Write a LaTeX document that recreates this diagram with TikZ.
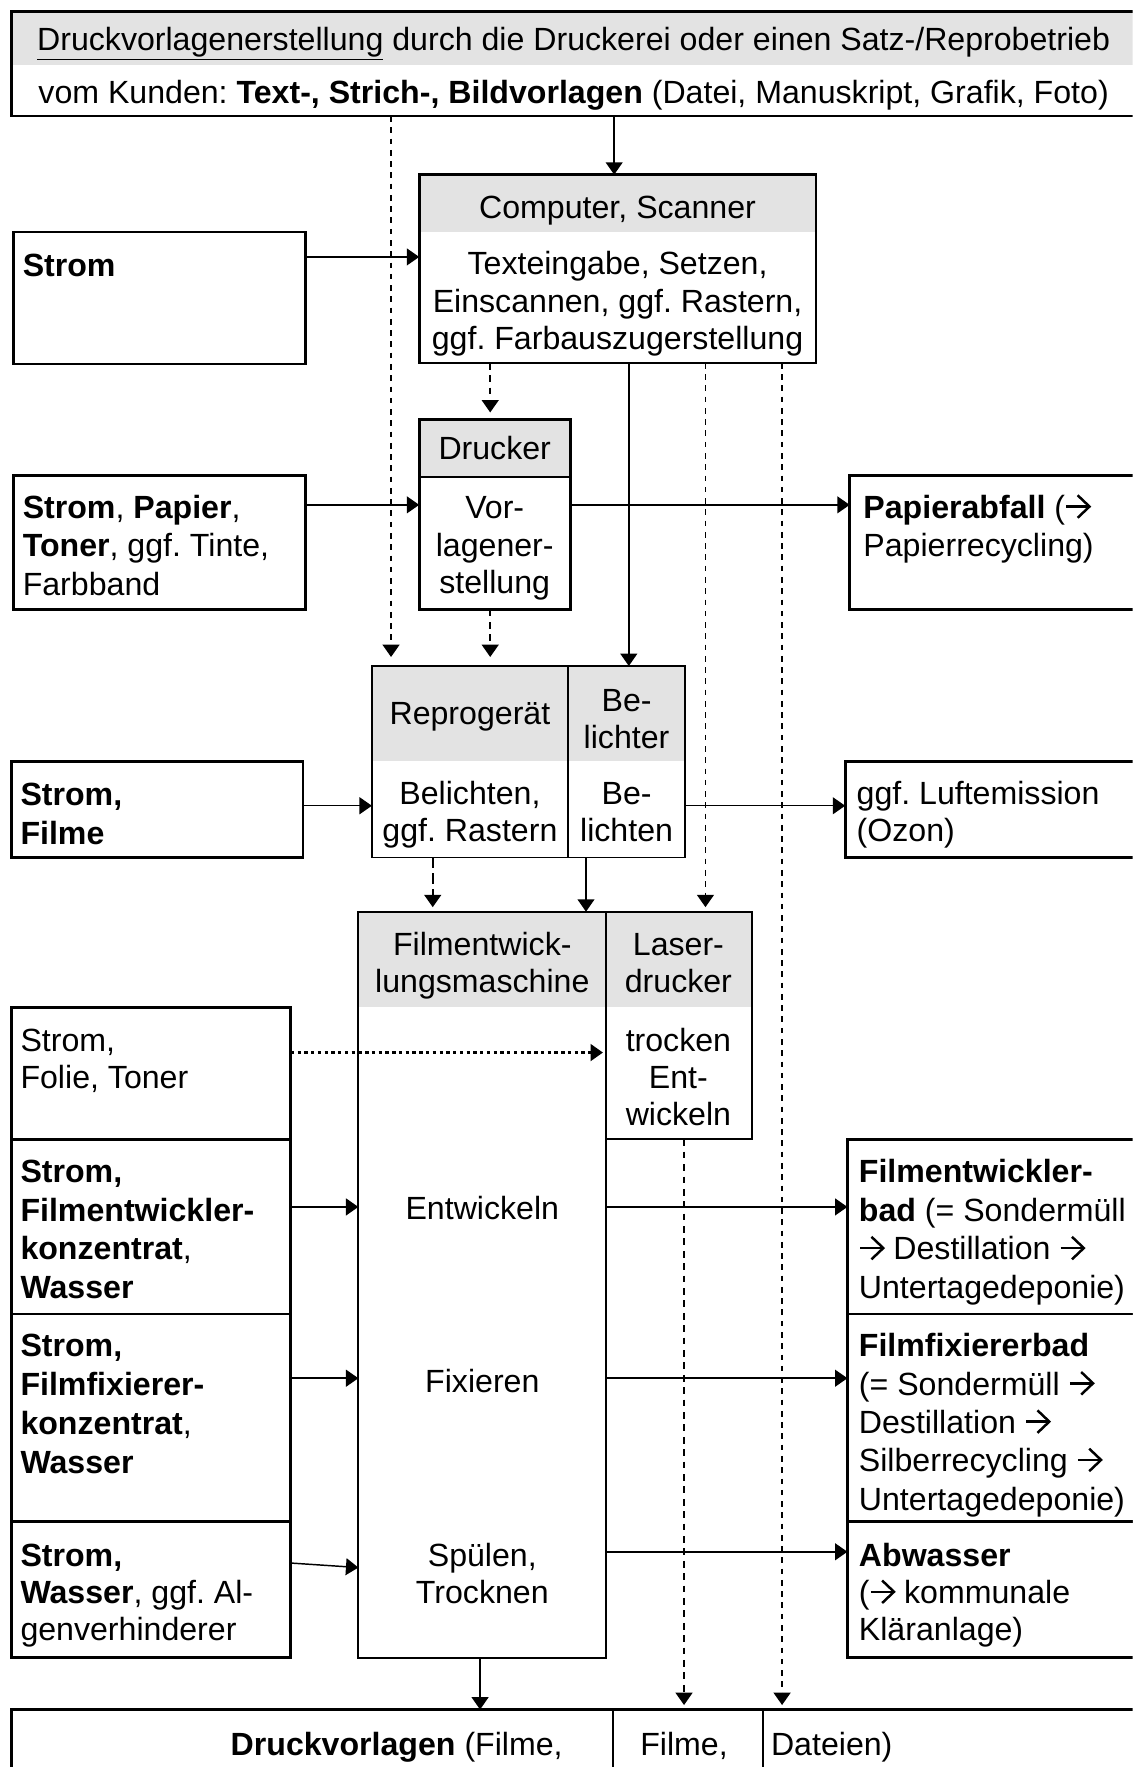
\documentclass[tikz,border=0pt]{standalone}
\usepackage{fontspec}
\setmainfont{Liberation Sans}
\newcommand\ra{\tikz[baseline=0pt]{\draw[line width=2.2pt] (0pt,10.5pt)--(20pt,10.5pt); \draw[line width=2.2pt, line join=miter, miter limit=10] (10pt,20.5pt)--(20.5pt,10.5pt)--(10pt,0.5pt);}}
\usetikzlibrary{arrows.meta}
\definecolor{hdr}{RGB}{227,227,227}
\tikzset{
  box/.style={draw, line width=2.4pt, inner sep=0pt, outer sep=0pt, anchor=north west},
  tbox/.style={draw, line width=1.6pt, inner sep=0pt, outer sep=0pt, anchor=north west},
  hdrfill/.style={fill=hdr, inner sep=0pt, outer sep=0pt, anchor=north west},
  txt/.style={inner sep=0pt, font=\fontsize{28.5}{33.5}\selectfont},
  conn/.style={line width=1.3pt, -{Triangle[length=11pt,width=15pt]}},
  dashc/.style={conn, line width=1.6pt, dash pattern=on 6pt off 5pt},
  dotv/.style={conn, line width=1.6pt, dash pattern=on 5pt off 5pt},
  dotc/.style={conn, line width=2pt, dash pattern=on 3pt off 3pt},
}
\newcommand\txtl[6]{%
  \foreach \t [count=\i from 0] in {#6}{\node[txt,anchor=#2] (#1\i) at (#3,{#4+10+\i*#5}) {\t};}}
\begin{document}
\frenchspacing
\begin{tikzpicture}[x=1pt,y=-1pt]
\useasboundingbox (0,0) rectangle (1005,1568);
\clip (0,0) rectangle (1005,1568);
\fill[white] (0,0) rectangle (1005,1568);

% ---------- boxes ----------
\node[hdrfill, minimum width=1010pt, minimum height=48pt] (topH) at (10,10) {};
\node[box, minimum width=1010pt, minimum height=93pt] (top) at (10,10) {};

\node[hdrfill, minimum width=352pt, minimum height=51pt] (compH) at (372,155) {};
\node[box, minimum width=352pt, minimum height=167pt] (comp) at (372,155) {};

\node[box, minimum width=259pt, minimum height=117pt] (strom1) at (12,206) {};

\node[hdrfill, minimum width=134pt, minimum height=51pt] (druckH) at (372,372) {};
\node[box, minimum width=134pt, minimum height=169pt] (druck) at (372,372) {};
\draw[line width=2pt] (druckH.south west) -- (druckH.south east);

\node[box, minimum width=259pt, minimum height=119pt] (strom2) at (12,422) {};
\node[box, minimum width=270pt, minimum height=119pt] (papier) at (754,422) {};

\node[hdrfill, minimum width=174pt, minimum height=84pt] (reproLH) at (330,591) {};
\node[hdrfill, minimum width=104pt, minimum height=84pt] (reproRH) at (504,591) {};
\node[tbox, minimum width=174pt, minimum height=170pt] (reproL) at (330,591) {};
\node[tbox, minimum width=104pt, minimum height=170pt] (reproR) at (504,591) {};

\node[box, minimum width=259pt, minimum height=85pt] (strom3) at (10,676) {};
\node[box, minimum width=275pt, minimum height=85pt] (luft) at (750,676) {};

\node[hdrfill, minimum width=220pt, minimum height=85pt] (filmH) at (318,809) {};
\node[hdrfill, minimum width=129pt, minimum height=85pt] (laserH) at (538,809) {};
\node[tbox, minimum width=220pt, minimum height=662pt] (film) at (318,809) {};
\node[tbox, minimum width=129pt, minimum height=202pt] (laser) at (538,809) {};

\node[box, minimum width=248pt, minimum height=117pt] (inA) at (10,894) {};
\node[box, minimum width=248pt, minimum height=155pt] (inB) at (10,1011) {};
\node[box, minimum width=248pt, minimum height=184pt] (inC) at (10,1166) {};
\node[box, minimum width=248pt, minimum height=121pt] (inD) at (10,1350) {};

\node[box, minimum width=275pt, minimum height=155pt] (outB) at (752,1011) {};
\node[box, minimum width=275pt, minimum height=184pt] (outC) at (752,1166) {};
\node[box, minimum width=275pt, minimum height=121pt] (outD) at (752,1350) {};

\node[box, minimum width=534pt, minimum height=90pt] (botL) at (10,1517) {};
\node[box, minimum width=133pt, minimum height=90pt] (botM) at (544,1517) {};
\node[box, minimum width=340pt, minimum height=90pt] (botR) at (677,1517) {};

% ---------- texts ----------
\node[txt, anchor=base] (t1) at (509,45) {\underline{Druckvorlagenerstellung} durch die Druckerei oder einen Satz-/Reprobetrieb};
\node[txt, anchor=base] (t2) at (509,92) {vom Kunden: \textbf{Text-, Strich-, Bildvorlagen} (Datei, Manuskript, Grafik, Foto)};

\txtl{ch}{base}{548}{184}{33}{Computer{,} Scanner}
\txtl{cb}{base}{548}{234}{33}{{Texteingabe, Setzen,},{Einscannen, ggf. Rastern,},{ggf. Farbauszugerstellung}}
\txtl{s1}{base west}{20}{235}{34}{\textbf{Strom}}

\txtl{dh}{base}{439}{398}{33}{Drucker}
\txtl{db}{base}{439}{450}{33.5}{Vor-,lagener-,stellung}
\txtl{s2}{base west}{20}{450}{34}{{\textbf{Strom}, \textbf{Papier},},{\textbf{Toner}, ggf. Tinte,},Farbband}
\txtl{pa}{base west}{766}{450}{34}{{\textbf{Papierabfall} (\ra},{Papierrecycling)}}

\txtl{rh}{base}{417}{633}{33}{Reprogerät}
\txtl{bh}{base}{556}{621}{33}{Be-,lichter}
\txtl{rb}{base}{417}{704}{33}{{Belichten,},{ggf. Rastern}}
\txtl{bb}{base}{556}{704}{33}{Be-,lichten}
\txtl{s3}{base west}{18}{705}{34}{{\textbf{Strom,}},\textbf{Filme}}
\txtl{lu}{base west}{760}{704}{33}{{ggf. Luftemission},{(Ozon)}}

\txtl{fh}{base}{428}{838}{33}{Filmentwick-,lungsmaschine}
\txtl{lh}{base}{602}{838}{33}{Laser-,drucker}
\txtl{lb}{base}{602}{923}{33}{trocken,Ent-,wickeln}
\txtl{fa}{base}{428}{1072}{33}{Entwickeln}
\txtl{fb}{base}{428}{1226}{33}{Fixieren}
\txtl{fc}{base}{428}{1380}{33}{{Spülen,},Trocknen}

\txtl{ia}{base west}{18}{923}{33}{{Strom,},{Folie, Toner}}
\txtl{ib}{base west}{18}{1039}{34.5}{{\textbf{Strom,}},{\textbf{Filmentwickler-}},{\textbf{konzentrat},},{\textbf{Wasser}}}
\txtl{ic}{base west}{18}{1194}{34.5}{{\textbf{Strom,}},{\textbf{Filmfixierer-}},{\textbf{konzentrat},},{\textbf{Wasser}}}
\txtl{id}{base west}{18}{1380}{33}{{\textbf{Strom,}},{\textbf{Wasser}, ggf. Al-},genverhinderer}

\txtl{ob}{base west}{762}{1039}{34.5}{{\textbf{Filmentwickler-}},{\textbf{bad} (= Sondermüll},{\ra{} Destillation \ra},{Untertagedeponie)}}
\txtl{oc}{base west}{762}{1194}{34}{{\textbf{Filmfixiererbad}},{(= Sondermüll \ra},{Destillation \ra},{Silberrecycling \ra},{Untertagedeponie)}}
\txtl{od}{base west}{762}{1380}{33}{{\textbf{Abwasser}},{(\ra{} kommunale},{Kläranlage)}}

\node[txt, anchor=base] (b1) at (352,1558) {\textbf{Druckvorlagen} (Filme,};
\node[txt, anchor=base] (b2) at (607,1558) {Filme,};
\node[txt, anchor=base west] (b3) at (684,1558) {Dateien)};

% ---------- connector columns / rows ----------
\coordinate (xTop) at (545,0);
\coordinate (xA) at (347,0);
\coordinate (xB) at (435,0);
\coordinate (xC) at (558,0);
\coordinate (xD) at (626,0);
\coordinate (xE) at (694,0);
\coordinate (xF) at (384,0);
\coordinate (xG) at (520,0);
\coordinate (xH) at (426,0);
\coordinate (xI) at (607,0);
\coordinate (yA) at (0,228);
\coordinate (yB) at (0,448);
\coordinate (yC) at (0,715);
\coordinate (yD) at (0,934);
\coordinate (yE) at (0,1071);
\coordinate (yF) at (0,1223);
\coordinate (yG1) at (0,1387);
\coordinate (yG2) at (0,1391);
\coordinate (yH) at (0,1377);

% ---------- connectors ----------
\draw[conn] (top.south -| xTop) -- (comp.north -| xTop);
\draw[dotv, shorten >=8pt] (top.south -| xA) -- (reproL.north -| xA);
\draw[conn] (strom1.east |- yA) -- (comp.west |- yA);
\draw[dashc, shorten >=6pt] (comp.south -| xB) -- (druck.north -| xB);
\draw[conn] (comp.south -| xC) -- (reproR.north -| xC);
\draw[dotv, shorten >=4pt] (comp.south -| xD) -- (laser.north -| xD);
\draw[dotv, shorten >=4pt] (comp.south -| xE) -- (botR.north -| xE);
\draw[conn] (strom2.east |- yB) -- (druck.west |- yB);
\draw[conn] (druck.east |- yB) -- (papier.west |- yB);
\draw[dashc, shorten >=8pt] (druck.south -| xB) -- (reproL.north -| xB);
\draw[conn] (strom3.east |- yC) -- (reproL.west |- yC);
\draw[conn] (reproR.east |- yC) -- (luft.west |- yC);
\draw[dashc, line width=1.8pt, dash pattern=on 9pt off 5pt, shorten >=4pt] (reproL.south -| xF) -- (film.north -| xF);
\draw[conn] (reproR.south -| xG) -- (film.north -| xG);
\draw[dotc, shorten >=3pt] (inA.east |- yD) -- (laser.west |- yD);
\draw[conn] (inB.east |- yE) -- (film.west |- yE);
\draw[conn] (film.east |- yE) -- (outB.west |- yE);
\draw[conn] (inC.east |- yF) -- (film.west |- yF);
\draw[conn] (film.east |- yF) -- (outC.west |- yF);
\draw[conn] (inD.east |- yG1) -- (film.west |- yG2);
\draw[conn] (film.east |- yH) -- (outD.west |- yH);
\draw[conn] (film.south -| xH) -- (botL.north -| xH);
\draw[dashc, shorten >=4pt] (laser.south -| xI) -- (botM.north -| xI);
\end{tikzpicture}
\end{document}
